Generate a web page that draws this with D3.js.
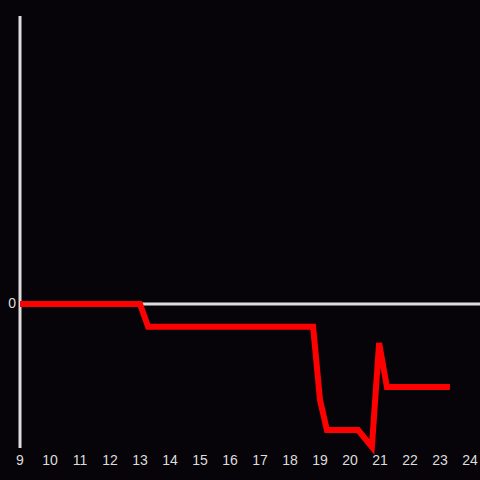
<!DOCTYPE html>
<html><head><meta charset="utf-8">
<script src="https://cdn.jsdelivr.net/npm/d3@7"></script>
<style>html,body{margin:0;padding:0;background:#060408;}svg{display:block;}</style>
</head><body>
<script>
const hours = [9, 13.0, 13.27, 18.77, 19.0, 19.23, 20.27, 20.73, 20.97, 21.23, 23.33];
const values = [0, 0, -0.158, -0.158, -0.667, -0.875, -0.875, -0.993, -0.271, -0.576, -0.576];
const xTicks = [9,10,11,12,13,14,15,16,17,18,19,20,21,22,23,24];
const yTicks = [0];

const W = 480, H = 480;
const svg = d3.select("body").append("svg").attr("width", W).attr("height", H)
  .style("background", "#060408");
const x = d3.scaleLinear().domain([9, 24]).range([20, 470]);
const y = d3.scaleLinear().domain([-1, 2]).range([448, 16]);

// zero line
svg.append("line").attr("x1", x(9)).attr("x2", 480).attr("y1", y(0)).attr("y2", y(0))
  .attr("stroke", "#dddddd").attr("stroke-width", 3);
// y axis line
svg.append("line").attr("x1", x(9)).attr("x2", x(9)).attr("y1", 16).attr("y2", 448)
  .attr("stroke", "#dddddd").attr("stroke-width", 3);

// x tick labels
svg.append("g").selectAll("text").data(xTicks).join("text")
  .attr("x", d => x(d)).attr("y", 461).attr("text-anchor", "middle")
  .attr("dominant-baseline", "middle")
  .attr("font-family", "Liberation Sans, Arial, sans-serif").attr("font-size", 14)
  .attr("fill", "#dddddd").text(d => d);
// y tick labels
svg.append("g").selectAll("text").data(yTicks).join("text")
  .attr("x", 16).attr("y", d => y(d)).attr("text-anchor", "end")
  .attr("dominant-baseline", "middle")
  .attr("font-family", "Liberation Sans, Arial, sans-serif").attr("font-size", 14)
  .attr("fill", "#dddddd").text(d => d);

const line = d3.line().x((d, i) => x(hours[i])).y(d => y(d));
svg.append("path").attr("d", line(values)).attr("fill", "none")
  .attr("stroke", "#ff0000").attr("stroke-width", 6).attr("stroke-linejoin", "miter");
</script>
</body></html>
